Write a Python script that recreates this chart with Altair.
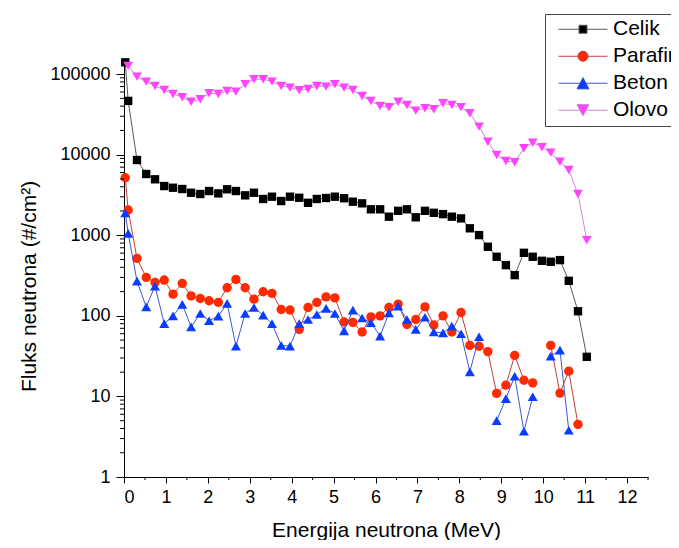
import altair as alt
import pandas as pd

# ---------------- data ----------------
energy = [0.03, 0.10, 0.31, 0.53, 0.74, 0.96, 1.17, 1.39, 1.60, 1.82, 2.03,
          2.25, 2.46, 2.67, 2.89, 3.10, 3.32, 3.53, 3.75, 3.96, 4.18, 4.39,
          4.60, 4.82, 5.03, 5.25, 5.46, 5.68, 5.89, 6.11, 6.32, 6.54, 6.75,
          6.96, 7.18, 7.39, 7.61, 7.82, 8.04, 8.25, 8.47, 8.68, 8.89, 9.11,
          9.32, 9.54, 9.75, 9.97, 10.18, 10.40, 10.61, 10.83, 11.04]

celik = [140000, 46500, 8590, 5760, 4950, 4080, 3890, 3750, 3370, 3250, 3540,
         3310, 3720, 3540, 3130, 3370, 2820, 3010, 2660, 3010, 2920, 2530,
         2820, 2900, 3010, 2880, 2610, 2490, 2100, 2100, 1700, 2010, 2100,
         1670, 2010, 1900, 1830, 1700, 1620, 1220, 1005, 720, 541, 426,
         320, 606, 541, 482, 469, 492, 272, 114, 31]

parafin = [5180, 2060, 516, 300, 260, 278, 186, 253, 177, 164, 154,
           147, 223, 283, 223, 161, 199, 190, 120, 118, 68, 127,
           147, 172, 167, 84, 83, 63, 97, 100, 127, 140, 78,
           90, 129, 77, 100, 63, 110, 43, 42, 36, 10.9, 13.8,
           32.3, 15.9, 14.7, None, 43, 11.0, 20.6, 4.5, None]

beton = [1900, 1056, 270, 129, 234, 80, 100, 139, 73, 107, 87,
         99, 143, 42, 107, 127, 102, 80, 43, 42, 80, 90,
         104, 124, 107, 65, 118, 94, 82, 56, 109, 132, 90,
         68, 96, 63, 61.5, 74.5, 60, 20.2, 55, None, 5.0, 9.4,
         17.8, 3.7, 9.9, None, 31.6, 37.5, 3.8, None, None]

olovo = [None, 126500, 93100, 80700, 71300, 63600, 56700, 51600, 45500, 48800, 57900,
         56700, 61800, 60600, 74900, 86400, 86400, 80700, 71300, 68000, 63100, 65500,
         71300, 69900, 74900, 68000, 63600, 53600, 46500, 40300, 38800, 45500, 41400,
         35200, 37700, 36600, 43500, 41400, 38800, 32700, 22300, 14500, 9910, 8350,
         8050, 12000, 14100, 12400, 10600, 8190, 6460, 3250, 871]

series_names = ["Celik", "Parafin", "Beton", "Olovo"]
series_values = [celik, parafin, beton, olovo]

x_ticks = list(range(0, 13))
x_minor = [k + 0.5 for k in range(0, 13)]
y_ticks = [1, 10, 100, 1000, 10000, 100000]
y_minor = [m * 10 ** d for d in range(0, 5) for m in range(2, 10)]

# ---------------- styles ----------------
marker_colors = ["#000000", "#ff2a00", "#0a3cff", "#ff44ff"]
line_colors = ["#5a5a5a", "#c23c3c", "#3c5ad2", "#cc88cc"]
plot_shapes = ["square", "circle", "triangle-up", "triangle-down"]
plot_sizes = [70, 88, 100, 95]
legend_paths = [
    "M-1,0H-0.163M0.163,0H1M-0.163,-0.163H0.163V0.163H-0.163Z",
    "M-1,0H-0.204M0.204,0H1M-0.204,0A0.204,0.204,0,1,1,0.204,0A0.204,0.204,0,1,1,-0.204,0Z",
    "M-1,0H-0.12M0.12,0H1M0,-0.23L0.245,0.23L-0.245,0.23Z",
    "M-1,0H-0.12M0.12,0H1M0,0.23L0.245,-0.23L-0.245,-0.23Z",
]

FONT = "Liberation Sans"

# ---------------- long table ----------------
rows = []
for name, vals in zip(series_names, series_values):
    seg = 0
    for e, v in zip(energy, vals):
        if v is None:
            seg += 1
            continue
        rows.append({"series": name, "energy": e, "flux": v, "seg": seg})
df = pd.DataFrame(rows)

x_scale = alt.Scale(domain=[0, 12.5], nice=False, zero=False)
y_scale = alt.Scale(type="log", domain=[1, 154000], nice=False)

x_axis = alt.Axis(values=x_ticks, format="d", title="Energija neutrona (MeV)",
                  tickSize=6, labelPadding=5, titlePadding=13, grid=False)
y_axis = alt.Axis(values=y_ticks, format="d", title="Fluks neutrona (#/cm²)",
                  tickSize=8, labelPadding=6, titlePadding=10, titleY=227, grid=False)

base = alt.Chart(df)

layers = []
for i, name in enumerate(series_names):
    sub = base.transform_filter(alt.datum.series == name)
    line = sub.mark_line(color=line_colors[i], strokeWidth=1).encode(
        x=alt.X("energy:Q", scale=x_scale, axis=x_axis),
        y=alt.Y("flux:Q", scale=y_scale, axis=y_axis),
        detail="seg:N",
        order="energy:Q",
    )
    pts = sub.mark_point(filled=True, shape=plot_shapes[i], size=plot_sizes[i],
                         color=marker_colors[i], opacity=1).encode(
        x=alt.X("energy:Q", scale=x_scale, axis=x_axis),
        y=alt.Y("flux:Q", scale=y_scale, axis=y_axis),
    )
    layers += [line, pts]

# minor ticks
xminor_df = pd.DataFrame({"v": x_minor})
yminor_df = pd.DataFrame({"v": y_minor})
xminor = alt.Chart(xminor_df).mark_rule(color="black", strokeWidth=1).encode(
    x=alt.X("v:Q", scale=x_scale, axis=x_axis),
    y=alt.value(418), y2=alt.value(421),
)
yminor = alt.Chart(yminor_df).mark_rule(color="black", strokeWidth=1).encode(
    y=alt.Y("v:Q", scale=y_scale, axis=y_axis),
    x=alt.value(0), x2=alt.value(-4),
)

# legend layer (no drawn rows, only the legend)
leg = alt.Legend(orient="none", legendX=421, legendY=-45, title=None)
legend_layer = base.transform_filter("false").mark_point(
    filled=True, opacity=1, strokeWidth=1).encode(
    x=alt.X("energy:Q", scale=x_scale, axis=x_axis),
    y=alt.Y("flux:Q", scale=y_scale, axis=y_axis),
    fill=alt.Fill("series:N", scale=alt.Scale(domain=series_names, range=marker_colors), legend=leg),
    stroke=alt.Stroke("series:N", scale=alt.Scale(domain=series_names, range=line_colors), legend=leg),
    shape=alt.Shape("series:N", scale=alt.Scale(domain=series_names, range=legend_paths), legend=leg),
)

chart = alt.layer(*layers, xminor, yminor, legend_layer).properties(
    width=524, height=418,
    padding={"left": 116, "top": 51, "right": 23, "bottom": 63},
    autosize=alt.AutoSizeParams(type="none"),
).configure_view(stroke=None).configure_axis(
    domainColor="black", tickColor="black", labelColor="black", titleColor="black",
    labelFont=FONT, titleFont=FONT, labelFontSize=18, titleFontSize=21,
    titleFontWeight="normal", domainWidth=1, tickWidth=1,
).configure_legend(
    symbolSize=2401, symbolStrokeWidth=1, symbolOffset=11, labelOffset=5,
    clipHeight=26.5, rowPadding=0, padding=2, labelFont=FONT, labelFontSize=21,
    labelColor="black", labelLimit=400, strokeColor="#444444", fillColor="white",
    cornerRadius=0, symbolOpacity=1,
)

chart.save("out.html", embed_options={"renderer": "svg", "actions": False})
